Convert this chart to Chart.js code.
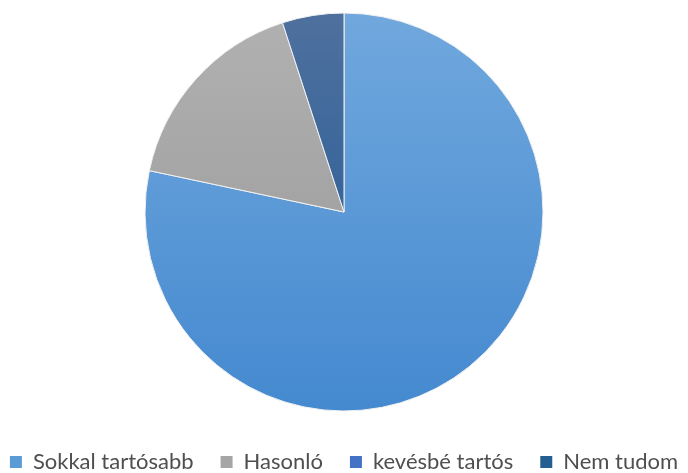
<!DOCTYPE html>
<html>
<head>
<meta charset="utf-8">
<script src="https://cdn.jsdelivr.net/npm/chart.js@4"></script>
<style>
    html, body { margin: 0; padding: 0; background: #ffffff; }
    #wrap { width: 688px; height: 473px; }
</style>
</head>
<body>
<div id="wrap"><canvas id="pie-chart" width="688" height="473"></canvas></div>
<script>
// Adatok
const labels = ["Sokkal tartósabb", "Hasonló", "kevésbé tartós", "Nem tudom"];
const values = [47, 10, 0, 3];
const topColors = ["#72A9DE", "#B2B2B2", "#4A7BD8", "#50719E"];
const bottomColors = ["#4388CF", "#959595", "#3563C4", "#1C5896"];
const legendColors = ["#5B9BD5", "#A5A5A5", "#4472C4", "#255E91"];

function gradientFor(context) {
    const chart = context.chart;
    const area = chart.chartArea;
    const i = context.dataIndex;
    if (!area) return legendColors[i];
    const g = chart.ctx.createLinearGradient(0, area.top, 0, area.bottom);
    g.addColorStop(0, topColors[i]);
    g.addColorStop(1, bottomColors[i]);
    return g;
}

const ctx = document.getElementById("pie-chart").getContext("2d");
new Chart(ctx, {
    type: "pie",
    data: {
        labels: labels,
        datasets: [{
            data: values,
            backgroundColor: gradientFor,
            borderColor: "#f2f2f2",
            borderWidth: 1,
            radius: 199
        }]
    },
    options: {
        responsive: false,
        animation: false,
        // negativ oldalso margo, hogy a jelmagyarazat egy sorba ferjen
        layout: { padding: { top: -3, bottom: -10, left: -35, right: -35 } },
        plugins: {
            tooltip: { enabled: false },
            legend: {
                position: "bottom",
                labels: {
                    font: { family: "Lato", size: 22 },
                    color: "#4f4f4f",
                    boxWidth: 12,
                    boxHeight: 12,
                    padding: 27,
                    generateLabels: function (chart) {
                        return labels.map(function (text, i) {
                            return {
                                text: text,
                                fillStyle: legendColors[i],
                                strokeStyle: legendColors[i],
                                lineWidth: 0,
                                hidden: false,
                                index: i,
                                fontColor: "#4f4f4f"
                            };
                        });
                    }
                }
            }
        }
    }
});
</script>
</body>
</html>
